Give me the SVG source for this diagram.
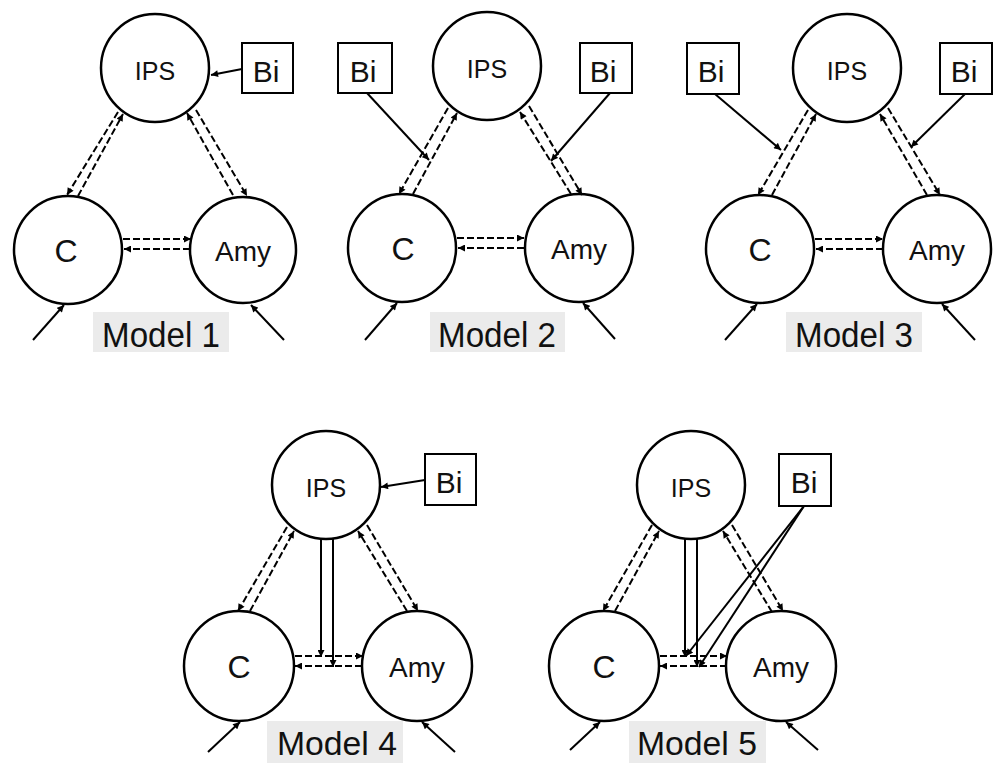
<svg xmlns="http://www.w3.org/2000/svg" width="995" height="763" viewBox="0 0 995 763">
<defs>
<marker id="ah" viewBox="0 0 10 10" refX="10" refY="5" markerWidth="8" markerHeight="7" markerUnits="userSpaceOnUse" orient="auto"><path d="M0,0 L10,5 L0,10 z" fill="#000"/></marker>
</defs>
<style>
.n{fill:#fff;stroke:#000;stroke-width:2.5}
.b{fill:#fff;stroke:#000;stroke-width:2}
.t{font-family:"Liberation Sans",Arial,sans-serif;fill:#111;text-anchor:middle}
.ips{font-size:25px}
.c{font-size:32px}
.amy{font-size:28px}
.bi{font-size:30px}
.lab{font-size:35px}
.lab2{font-size:33px}
.lbg{fill:#ebebeb}
.d{stroke:#000;stroke-width:2;stroke-dasharray:7 3;fill:none;marker-end:url(#ah)}
.s{stroke:#000;stroke-width:2;fill:none;marker-end:url(#ah)}
</style>
<rect width="995" height="763" fill="#fff"/>

<!-- Model 1 -->
<g id="m1-label"><rect class="lbg" x="93" y="312" width="136" height="40"/><text class="t lab" x="161" y="347" textLength="118" lengthAdjust="spacingAndGlyphs">Model 1</text></g>
<g id="m1-ips"><circle class="n" cx="155" cy="68" r="54"/><text class="t ips" x="155" y="80">IPS</text></g>
<g id="m1-bi"><rect class="b" x="242" y="43" width="51" height="50"/><text class="t bi" x="266" y="82">Bi</text></g>
<g id="m1-c"><circle class="n" cx="68" cy="250" r="54"/><text class="t c" x="66" y="262">C</text></g>
<g id="m1-amy"><circle class="n" cx="243" cy="250" r="53"/><text class="t amy" x="243" y="261">Amy</text></g>

<!-- Model 2 -->
<g id="m2-label"><rect class="lbg" x="430" y="312" width="135" height="40"/><text class="t lab" x="497" y="347" textLength="118" lengthAdjust="spacingAndGlyphs">Model 2</text></g>
<g id="m2-ips"><circle class="n" cx="487" cy="66" r="54"/><text class="t ips" x="487" y="78">IPS</text></g>
<g id="m2-bi1"><rect class="b" x="338" y="43" width="54" height="50"/><text class="t bi" x="363" y="82">Bi</text></g>
<g id="m2-bi2"><rect class="b" x="580" y="43" width="52" height="50"/><text class="t bi" x="603" y="82">Bi</text></g>
<g id="m2-c"><circle class="n" cx="402" cy="248" r="54"/><text class="t c" x="403" y="260">C</text></g>
<g id="m2-amy"><circle class="n" cx="579" cy="248" r="54"/><text class="t amy" x="579" y="259">Amy</text></g>

<!-- Model 3 -->
<g id="m3-label"><rect class="lbg" x="786" y="312" width="136" height="40"/><text class="t lab" x="854" y="347" textLength="118" lengthAdjust="spacingAndGlyphs">Model 3</text></g>
<g id="m3-ips"><circle class="n" cx="847" cy="68" r="54"/><text class="t ips" x="847" y="80">IPS</text></g>
<g id="m3-bi1"><rect class="b" x="687" y="43" width="52" height="51"/><text class="t bi" x="711" y="82">Bi</text></g>
<g id="m3-bi2"><rect class="b" x="940" y="43" width="52" height="51"/><text class="t bi" x="964" y="82">Bi</text></g>
<g id="m3-c"><circle class="n" cx="760" cy="249" r="54"/><text class="t c" x="760" y="261">C</text></g>
<g id="m3-amy"><circle class="n" cx="937" cy="249" r="54"/><text class="t amy" x="937" y="260">Amy</text></g>

<!-- Model 4 -->
<g id="m4-label"><rect class="lbg" x="267" y="721" width="136" height="42"/><text class="t lab2" x="337" y="755" textLength="120" lengthAdjust="spacingAndGlyphs">Model 4</text></g>
<g id="m4-ips"><circle class="n" cx="326" cy="485" r="54"/><text class="t ips" x="326" y="497">IPS</text></g>
<g id="m4-bi"><rect class="b" x="425" y="454" width="51" height="51"/><text class="t bi" x="449" y="493">Bi</text></g>
<g id="m4-c"><circle class="n" cx="239" cy="666" r="55"/><text class="t c" x="239" y="678">C</text></g>
<g id="m4-amy"><circle class="n" cx="417" cy="666" r="55"/><text class="t amy" x="417" y="677">Amy</text></g>

<!-- Model 5 -->
<g id="m5-label"><rect class="lbg" x="629" y="721" width="137" height="42"/><text class="t lab2" x="697" y="755" textLength="120" lengthAdjust="spacingAndGlyphs">Model 5</text></g>
<g id="m5-ips"><circle class="n" cx="691" cy="485" r="54"/><text class="t ips" x="691" y="497">IPS</text></g>
<g id="m5-bi"><rect class="b" x="779" y="454" width="52" height="52"/><text class="t bi" x="804" y="493">Bi</text></g>
<g id="m5-c"><circle class="n" cx="604" cy="666" r="55"/><text class="t c" x="604" y="678">C</text></g>
<g id="m5-amy"><circle class="n" cx="781" cy="666" r="55"/><text class="t amy" x="781" y="677">Amy</text></g>

<g id="connectors">
<!-- Model 1 -->
<line class="s" x1="242" y1="69" x2="211" y2="75"/>
<line class="d" x1="118" y1="112" x2="67" y2="195"/>
<line class="d" x1="78" y1="196" x2="123" y2="114"/>
<line class="d" x1="233" y1="195" x2="187" y2="113"/>
<line class="d" x1="196" y1="110" x2="247" y2="196"/>
<line class="d" x1="123" y1="239" x2="191" y2="239"/>
<line class="d" x1="190" y1="249" x2="124" y2="249"/>
<line class="s" x1="33" y1="340" x2="64" y2="305"/>
<line class="s" x1="284" y1="340" x2="251" y2="305"/>
<!-- Model 2 -->
<line class="s" x1="367" y1="93" x2="429" y2="160"/>
<line class="s" x1="610" y1="93" x2="551" y2="161"/>
<line class="d" x1="448" y1="108" x2="399" y2="194"/>
<line class="d" x1="413" y1="194" x2="457" y2="113"/>
<line class="d" x1="571" y1="194" x2="520" y2="112"/>
<line class="d" x1="529" y1="106" x2="582" y2="195"/>
<line class="d" x1="457" y1="238" x2="524" y2="238"/>
<line class="d" x1="524" y1="248" x2="458" y2="248"/>
<line class="s" x1="365" y1="340" x2="397" y2="303"/>
<line class="s" x1="615" y1="339" x2="583" y2="303"/>
<!-- Model 3 -->
<line class="s" x1="715" y1="94" x2="781" y2="150"/>
<line class="s" x1="965" y1="94" x2="911" y2="147"/>
<line class="d" x1="808" y1="110" x2="758" y2="195"/>
<line class="d" x1="772" y1="195" x2="816" y2="114"/>
<line class="d" x1="927" y1="195" x2="880" y2="114"/>
<line class="d" x1="888" y1="108" x2="940" y2="195"/>
<line class="d" x1="815" y1="239" x2="883" y2="239"/>
<line class="d" x1="883" y1="249" x2="816" y2="249"/>
<line class="s" x1="725" y1="340" x2="757" y2="304"/>
<line class="s" x1="975" y1="340" x2="942" y2="304"/>
<!-- Model 4 -->
<line class="s" x1="425" y1="480" x2="381" y2="487"/>
<line class="d" x1="287" y1="527" x2="238" y2="611"/>
<line class="d" x1="250" y1="611" x2="294" y2="531"/>
<line class="d" x1="407" y1="611" x2="358" y2="531"/>
<line class="d" x1="367" y1="525" x2="418" y2="611"/>
<line class="d" x1="295" y1="656" x2="363" y2="656"/>
<line class="d" x1="362" y1="666" x2="295" y2="666"/>
<line class="s" x1="321" y1="539" x2="321" y2="657"/>
<line class="s" x1="333" y1="538" x2="333" y2="667"/>
<line class="s" x1="208" y1="752" x2="240" y2="722"/>
<line class="s" x1="455" y1="752" x2="422" y2="722"/>
<!-- Model 5 -->
<line class="d" x1="652" y1="525" x2="603" y2="611"/>
<line class="d" x1="615" y1="611" x2="659" y2="531"/>
<line class="d" x1="772" y1="612" x2="723" y2="531"/>
<line class="d" x1="732" y1="525" x2="783" y2="611"/>
<line class="d" x1="660" y1="656" x2="727" y2="656"/>
<line class="d" x1="727" y1="666" x2="660" y2="666"/>
<line class="s" x1="685" y1="539" x2="685" y2="657"/>
<line class="s" x1="697" y1="538" x2="697" y2="667"/>
<line class="s" x1="804" y1="506" x2="686" y2="656"/>
<line class="s" x1="804" y1="506" x2="699" y2="667"/>
<line class="s" x1="570" y1="750" x2="600" y2="722"/>
<line class="s" x1="818" y1="750" x2="786" y2="722"/>
</g>
</svg>
